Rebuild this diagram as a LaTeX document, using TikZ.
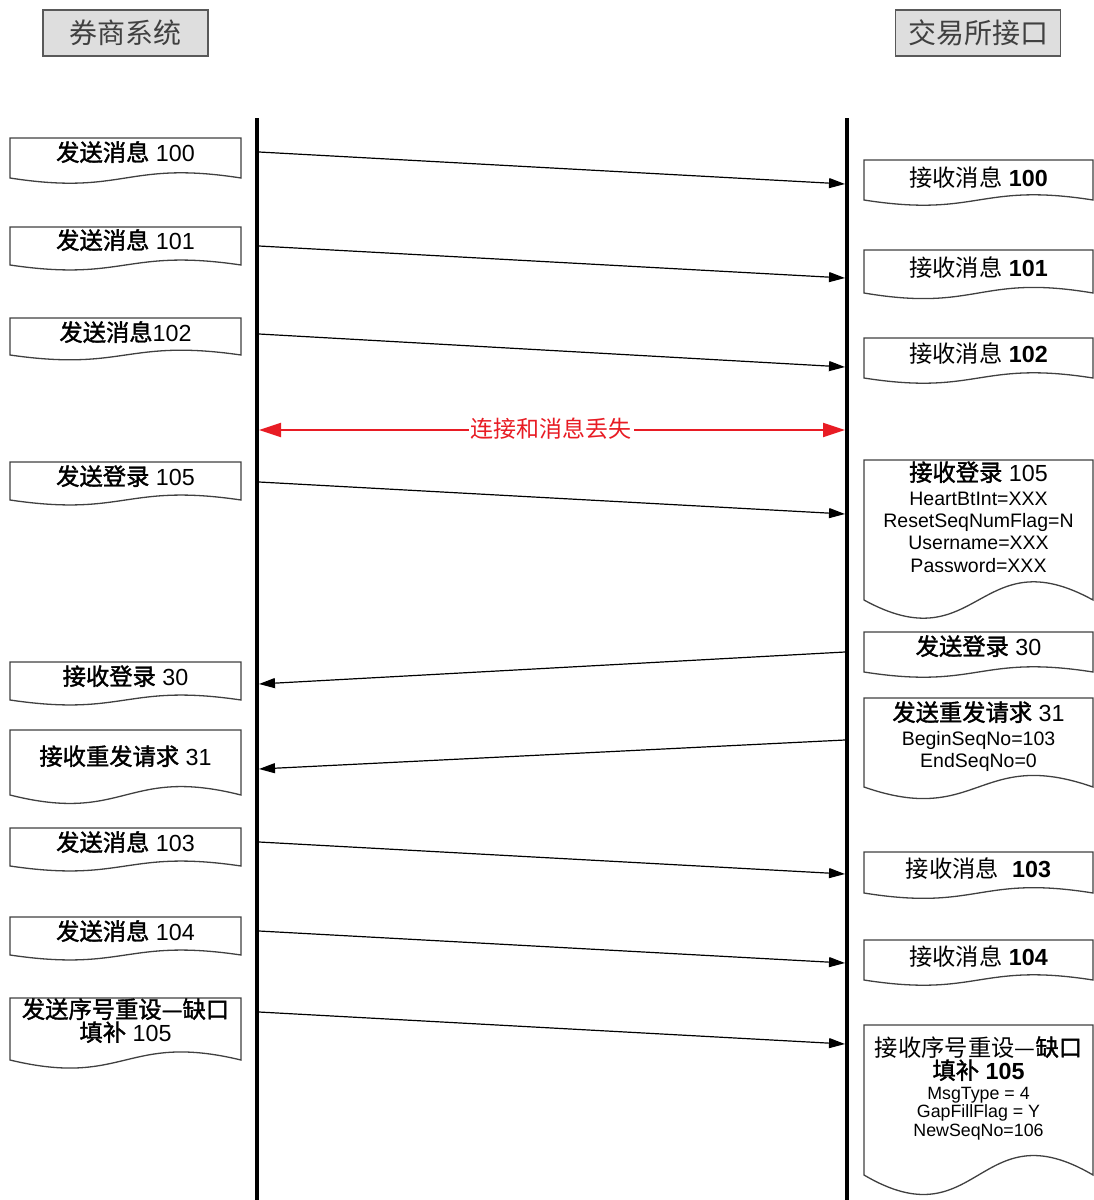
\documentclass[tikz,border=0pt]{standalone}
\usepackage{fontspec}
\setmainfont{Liberation Sans}
\newfontfamily\cjk{Noto Sans CJK SC}
\newfontfamily\cjkm{Noto Sans CJK SC}[RawFeature={embolden=1.6}]
\usetikzlibrary{arrows.meta}
\definecolor{lostred}{RGB}{232,28,36}
\tikzset{
 doc/.style={draw=black!75, line width=1.3pt, fill=white},
 hdr/.style={draw=black!65, fill=black!13, line width=1.6pt, minimum width=165pt, minimum height=46pt, inner sep=0pt, font=\cjk\fontsize{28}{32}\selectfont, text=black!75},
 life/.style={line width=4pt},
 msg/.style={line width=1.2pt, -{Triangle[length=16pt,width=10pt]}},
 lost/.style={line width=2.2pt, draw=lostred, {Triangle[length=22pt,width=14pt]}-{Triangle[length=22pt,width=14pt]}},
 bt/.style={anchor=base, inner sep=0pt, font=\fontsize{23.3}{26}\selectfont},
 st/.style={anchor=base, inner sep=0pt, font=\fontsize{19.5}{22}\selectfont},
 xt/.style={anchor=base, inner sep=0pt, font=\fontsize{17.8}{20}\selectfont},
}
\newcommand{\zh}[1]{{\cjk #1}}
\newcommand{\zhb}[1]{{\cjkm #1}}
\newcommand{\docshape}[4]{%
 \pgfmathsetmacro\dk{0.45*(#4-#3)}%
 \pgfmathsetmacro\dm{(#1+#2)/2}%
 \draw[doc] (#1,#3) -- (#2,#3) -- (#2,#4) .. controls (\dm,#4-\dk) and (\dm,#4+\dk) .. (#1,#4) -- cycle;}
\begin{document}
\begin{tikzpicture}[x=1pt,y=-1pt]
\useasboundingbox (0,0) rectangle (1094,1200);
% headers
\node[hdr] (hL) at (125.5,33) {券商系统};
\node[hdr] (hR) at (978,33) {交易所接口};
% lifelines
\coordinate (LT) at (257,118); \coordinate (LB) at (257,1200);
\coordinate (RT) at (847,118); \coordinate (RB) at (847,1200);
\draw[life] (LT) -- (LB);
\draw[life] (RT) -- (RB);
% left documents
\docshape{10}{241}{138}{178}
\node[bt] (l1) at (125.5,161) {\zhb{发送消息} 100};
\docshape{10}{241}{227}{265}
\node[bt] (l2) at (125.5,249) {\zhb{发送消息} 101};
\docshape{10}{241}{318}{355}
\node[bt] (l3) at (125.5,341) {\zhb{发送消息}102};
\docshape{10}{241}{462}{500}
\node[bt] (l4) at (125.5,485) {\zhb{发送登录} 105};
\docshape{10}{241}{662}{700}
\node[bt] (l5) at (125.5,685) {\zhb{接收登录} 30};
\docshape{10}{241}{730}{795}
\node[bt] (l6) at (125.5,765) {\zhb{接收重发请求} 31};
\docshape{10}{241}{828}{866}
\node[bt] (l7) at (125.5,851) {\zhb{发送消息} 103};
\docshape{10}{241}{917}{955}
\node[bt] (l8) at (125.5,940) {\zhb{发送消息} 104};
\docshape{10}{241}{998}{1060}
\node[bt] (l9a) at (125.5,1018) {\zhb{发送序号重设—缺口}};
\node[bt] (l9b) at (125.5,1041) {\zhb{填补} 105};
% right documents
\docshape{864}{1093}{160}{200}
\node[bt] (r1) at (978.5,186) {\zh{接收消息} \textbf{100}};
\docshape{864}{1093}{250}{293}
\node[bt] (r2) at (978.5,276) {\zh{接收消息} \textbf{101}};
\docshape{864}{1093}{338}{378}
\node[bt] (r3) at (978.5,362) {\zh{接收消息} \textbf{102}};
\docshape{864}{1093}{460}{600}
\node[bt] (r4a) at (978.5,481) {\zhb{接收登录} 105};
\node[st] (r4b) at (978.5,505) {HeartBtInt=XXX};
\node[st] (r4c) at (978.5,527) {ResetSeqNumFlag=N};
\node[st] (r4d) at (978.5,549) {Username=XXX};
\node[st] (r4e) at (978.5,572) {Password=XXX};
\docshape{864}{1093}{632}{672}
\node[bt] (r5) at (978.5,655) {\zhb{发送登录} 30};
\docshape{864}{1093}{698}{787}
\node[bt] (r6a) at (978.5,721) {\zhb{发送重发请求} 31};
\node[st] (r6b) at (978.5,745) {BeginSeqNo=103};
\node[st] (r6c) at (978.5,767) {EndSeqNo=0};
\docshape{864}{1093}{852}{893}
\node[bt] (r7) at (978.5,877) {\zh{接收消息}\ \ \textbf{103}};
\docshape{864}{1093}{940}{980}
\node[bt] (r8) at (978.5,965) {\zh{接收消息} \textbf{104}};
\docshape{864}{1093}{1025}{1175}
\node[bt] (r9a) at (978.5,1056) {\zh{接收序号重设—}\zhb{缺口}};
\node[bt] (r9b) at (978.5,1079) {\zhb{填补} \textbf{105}};
\node[xt] (r9c) at (978.5,1099) {MsgType = 4};
\node[xt] (r9d) at (978.5,1117) {GapFillFlag = Y};
\node[xt] (r9e) at (978.5,1136) {NewSeqNo=106};
% messages
\coordinate (m1a) at (259,152);  \coordinate (m1b) at (845,184);
\coordinate (m2a) at (259,246);  \coordinate (m2b) at (845,278);
\coordinate (m3a) at (259,334);  \coordinate (m3b) at (845,367);
\coordinate (m5a) at (259,482);  \coordinate (m5b) at (845,514);
\coordinate (m6a) at (845,652);  \coordinate (m6b) at (259,684);
\coordinate (m7a) at (845,740);  \coordinate (m7b) at (259,769);
\coordinate (m8a) at (259,842);  \coordinate (m8b) at (845,874);
\coordinate (m9a) at (259,931);  \coordinate (m9b) at (845,963);
\coordinate (m10a) at (259,1012); \coordinate (m10b) at (845,1044);
\draw[msg] (m1a) -- (m1b);
\draw[msg] (m2a) -- (m2b);
\draw[msg] (m3a) -- (m3b);
\draw[msg] (m5a) -- (m5b);
\draw[msg] (m6a) -- (m6b);
\draw[msg] (m7a) -- (m7b);
\draw[msg] (m8a) -- (m8b);
\draw[msg] (m9a) -- (m9b);
\draw[msg] (m10a) -- (m10b);
% lost connection
\coordinate (lostL) at (259,430); \coordinate (lostR) at (845,430);
\draw[lost] (lostL) -- (lostR);
\node[fill=white, inner sep=2pt, text=lostred, font=\cjk\fontsize{23}{27}\selectfont] (lostlbl) at (551,429) {连接和消息丢失};
\end{tikzpicture}
\end{document}
